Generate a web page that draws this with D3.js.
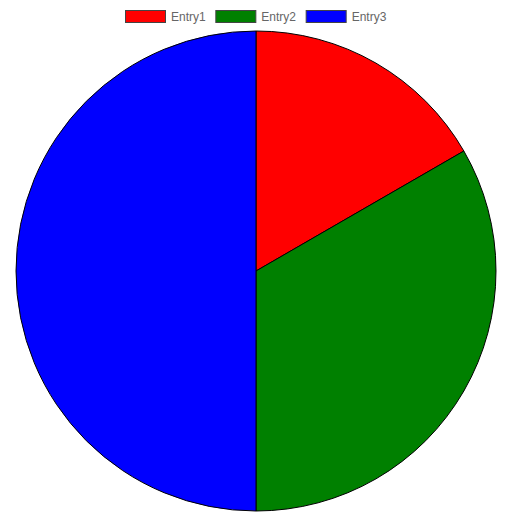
<!DOCTYPE html>
<meta charset="utf-8">
<style>
body { margin: 0; background: #fff; }
</style>
<body>
<script src="https://d3js.org/d3.v7.min.js"></script>
<script>

var labels = ["Entry1", "Entry2", "Entry3"];
var values = [1, 2, 3];
var colors = ["#ff0000", "#008000", "#0000ff"];

var width = 512, height = 512;
var cx = 256, cy = 271, radius = 240;

var svg = d3.select("body").append("svg")
    .attr("width", width)
    .attr("height", height);

var pie = d3.pie().sort(null);
var arc = d3.arc().innerRadius(0).outerRadius(radius);

svg.append("g")
    .attr("transform", "translate(" + cx + "," + cy + ")")
  .selectAll("path")
    .data(pie(values))
  .enter().append("path")
    .attr("d", arc)
    .style("fill", function(d, i) { return colors[i]; })
    .style("stroke", "#000")
    .style("stroke-width", 1);

// legend
var legendX = d3.scaleBand().domain(labels).range([125, 396]);

var item = svg.append("g").selectAll("g")
    .data(labels)
  .enter().append("g")
    .attr("transform", function(d) { return "translate(" + legendX(d) + ",10)"; });

item.append("rect")
    .attr("x", 0.5).attr("y", 0.5)
    .attr("width", 40).attr("height", 12)
    .style("fill", function(d, i) { return colors[i]; })
    .style("stroke", "#444")
    .style("stroke-width", 1);

item.append("text")
    .attr("x", 46)
    .attr("y", 6.5)
    .attr("dy", ".35em")
    .style("fill", "#666")
    .style("font-family", "Liberation Sans, Arial, sans-serif")
    .style("font-size", "12px")
    .text(function(d) { return d; });
</script>
</body>
